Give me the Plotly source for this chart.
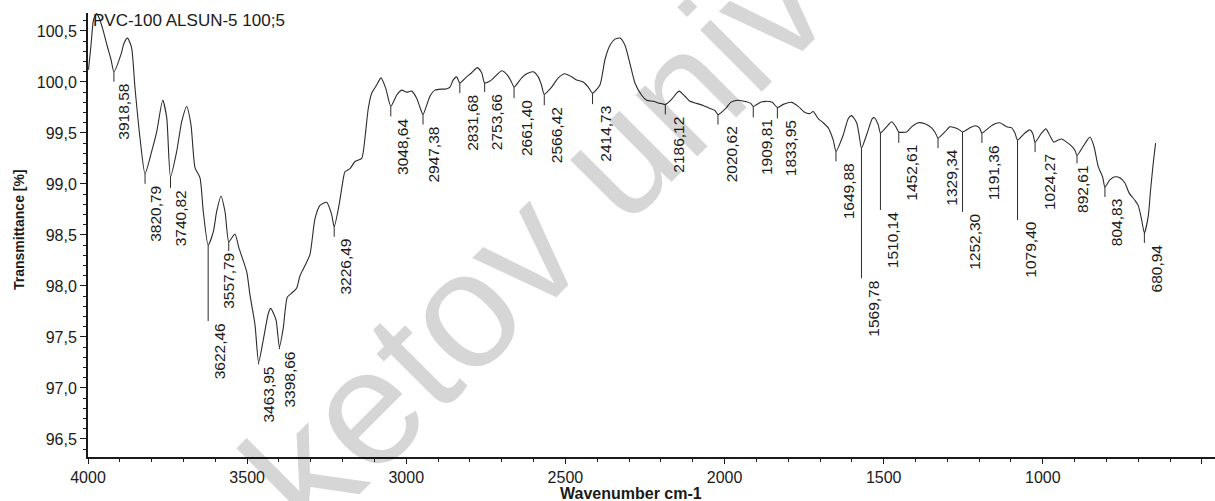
import numpy as np
import plotly.graph_objects as go

# IR spectrum: wavenumber (cm-1) and transmittance (%)
wavenumber = [
    3998.4, 3990.6, 3982.7, 3973.3, 3963.9, 3952.9, 3940.3, 3927.7, 3918.58,
    3896.3, 3886.9, 3875.9, 3863.3, 3852.3, 3836.6, 3820.79,
    3799.9, 3784.2, 3765.3, 3752.7, 3740.82,
    3721.3, 3705.6, 3689.9, 3676.4, 3663.8, 3648.1, 3637.8, 3622.46,
    3606.3, 3595.7, 3582.2, 3569.6, 3557.79,
    3548.5, 3538.2, 3525.6, 3501.4, 3491.0, 3475.3, 3463.95,
    3449.3, 3433.5, 3426.0, 3409.4, 3398.66,
    3386.4, 3373.9, 3360.0, 3344.3, 3333.9, 3318.2, 3302.5, 3286.8, 3271.1,
    3250.1, 3234.4, 3226.49,
    3211.4, 3201.1, 3192.6, 3176.9, 3161.2, 3140.1, 3129.8, 3119.4, 3108.7,
    3093.0, 3079.5, 3064.7, 3048.64,
    3030.2, 3014.4, 2998.7, 2983.0, 2967.3, 2956.9, 2947.38,
    2935.0, 2925.5, 2909.8, 2888.8, 2875.3, 2862.7, 2852.3, 2841.7, 2831.68,
    2810.3, 2794.5, 2776.9, 2763.1, 2753.66,
    2731.7, 2716.0, 2700.3, 2682.7, 2669.5, 2661.40,
    2637.5, 2621.7, 2601.0, 2585.3, 2575.2, 2566.42,
    2543.2, 2522.5, 2501.4, 2480.4, 2464.7, 2444.0, 2428.3, 2414.73,
    2391.5, 2375.7, 2360.0, 2344.3, 2328.6, 2312.9, 2297.2, 2281.5, 2260.4,
    2244.7, 2224.0, 2202.9, 2186.12,
    2166.3, 2150.6, 2142.4, 2124.5, 2108.7, 2087.7, 2067.0, 2045.9, 2030.2,
    2020.62,
    1996.2, 1980.5, 1959.6, 1938.8, 1917.7, 1909.81,
    1887.0, 1871.3, 1850.2, 1833.95,
    1815.6, 1789.4, 1768.5, 1747.5, 1731.8, 1721.4, 1705.6, 1689.9, 1674.2,
    1658.5, 1649.88,
    1627.1, 1611.4, 1600.9, 1585.0, 1576.2, 1569.78,
    1551.6, 1535.9, 1529.0, 1517.1, 1510.14,
    1490.8, 1475.1, 1461.6, 1452.61,
    1427.9, 1412.3, 1391.5, 1370.5, 1349.4, 1337.5, 1329.34,
    1307.6, 1291.9, 1276.2, 1262.0, 1252.30,
    1229.0, 1213.3, 1199.2, 1191.36,
    1166.2, 1150.5, 1134.8, 1113.7, 1098.0, 1087.6, 1079.40,
    1056.2, 1040.5, 1031.1, 1024.27,
    1003.8, 990.4, 975.6, 965.2, 951.6, 940.9, 925.2, 909.5, 899.2, 892.61,
    873.0, 860.4, 852.0, 839.4, 825.9, 812.1, 804.83,
    789.3, 773.5, 757.8, 742.1, 728.6, 710.7, 700.3, 689.6, 680.94,
    668.9, 661.4, 653.2, 645.7,
]

transmittance = [
    100.12, 100.36, 100.61, 100.67, 100.62, 100.51, 100.36, 100.22, 100.10,
    100.27, 100.38, 100.43, 100.34, 99.94, 99.45, 99.10,
    99.32, 99.51, 99.82, 99.65, 99.07,
    99.32, 99.61, 99.76, 99.58, 99.16, 99.06, 98.73, 98.40,
    98.53, 98.73, 98.88, 98.73, 98.43,
    98.47, 98.51, 98.37, 98.14, 97.91, 97.62, 97.25,
    97.47, 97.73, 97.78, 97.67, 97.40,
    97.59, 97.89, 97.93, 97.98, 98.10, 98.20, 98.31, 98.66, 98.79,
    98.82, 98.70, 98.58,
    98.79, 98.99, 99.12, 99.15, 99.22, 99.25, 99.45, 99.74, 99.89,
    99.97, 100.04, 99.94, 99.76,
    99.87, 99.92, 99.90, 99.91, 99.84, 99.75, 99.68,
    99.78, 99.86, 99.92, 99.93, 99.93, 99.95, 100.02, 100.05, 99.99,
    100.05, 100.09, 100.14, 100.09, 99.99,
    100.02, 100.07, 100.11, 100.07, 100.00, 99.95,
    100.04, 100.08, 100.10, 100.05, 99.97, 99.88,
    99.95, 100.04, 100.08, 100.05, 100.02, 100.00, 99.95, 99.89,
    99.97, 100.22, 100.36, 100.42, 100.43, 100.36, 100.18, 99.99, 99.87,
    99.82, 99.81, 99.79, 99.78,
    99.83, 99.89, 99.91, 99.86, 99.81, 99.79, 99.77, 99.74, 99.72,
    99.68,
    99.74, 99.80, 99.82, 99.81, 99.79, 99.76,
    99.80, 99.81, 99.80, 99.75,
    99.78, 99.80, 99.76, 99.70, 99.69, 99.71, 99.64, 99.60, 99.55,
    99.43, 99.32,
    99.48, 99.64, 99.67, 99.60, 99.46, 99.35,
    99.50, 99.64, 99.65, 99.58, 99.50,
    99.56, 99.61, 99.56, 99.51,
    99.51, 99.56, 99.60, 99.59, 99.55, 99.50, 99.45,
    99.51, 99.56, 99.55, 99.53, 99.51,
    99.55, 99.57, 99.55, 99.50,
    99.56, 99.59, 99.60, 99.56, 99.55, 99.50, 99.43,
    99.50, 99.53, 99.49, 99.41,
    99.50, 99.54, 99.46, 99.41, 99.43, 99.44, 99.41, 99.37, 99.33, 99.28,
    99.37, 99.43, 99.46, 99.37, 99.17, 99.07, 98.97,
    99.04, 99.07, 99.06, 99.01, 98.91, 98.84, 98.79, 98.65, 98.52,
    98.68, 98.94, 99.20, 99.40,
]

# Marked absorption bands
peak_wavenumbers = [
    3918.58, 3820.79, 3740.82, 3622.46, 3557.79, 3463.95, 3398.66, 3226.49,
    3048.64, 2947.38, 2831.68, 2753.66, 2661.40, 2566.42, 2414.73, 2186.12,
    2020.62, 1909.81, 1833.95, 1649.88, 1569.78, 1510.14, 1452.61, 1329.34,
    1252.30, 1191.36, 1079.40, 1024.27, 892.61, 804.83, 680.94,
]

x_tick_values = [4000, 3500, 3000, 2500, 2000, 1500, 1000, 500]
y_tick_values = [96.5, 97.0, 97.5, 98.0, 98.5, 99.0, 99.5, 100.0, 100.5]
y_tick_labels = ["96,5", "97,0", "97,5", "98,0", "98,5", "99,0", "99,5", "100,0", "100,5"]

# Leader length (px) and label horizontal offset (px) for each marked band
leader_px = [10, 10, 11, 76, 9, 2, 2, 10, 10, 10, 10, 9, 11, 11, 11, 10,
             10, 11, 11, 10, 130, 77, 11, 10, 80, 10, 80, 10, 8, 10, 10]
label_dx = [10, 11, 10, 11, -1, 9.5, 10, 11.6, 11.7, 11, 13, 12.5, 12, 11.7, 13, 13,
            13.7, 13.4, 13.3, 12, 12, 12.8, 13, 12.6, 12.4, 12, 13, 13.8, 6, 11.7, 12.2]

W, H = 1215, 501
M_L, M_R, M_T, M_B = 88, 0, 13, 44
PLOT_W = W - M_L - M_R
PLOT_H = H - M_T - M_B
X_RANGE = [4000, 459]
Y_RANGE = [96.323, 100.676]
px_per_T = PLOT_H / (Y_RANGE[1] - Y_RANGE[0])

FONT = "Arial, Liberation Sans, sans-serif"
INK = "#1a1a1a"

fig = go.Figure()

fig.add_trace(go.Scatter(
    x=wavenumber, y=transmittance, mode="lines",
    line=dict(color="#2b2b2b", width=1.1, shape="spline", smoothing=0.6),
    hoverinfo="skip", showlegend=False,
))

# Leader lines hanging below each marked band
peak_T = np.interp(peak_wavenumbers[::-1], wavenumber[::-1], transmittance[::-1])[::-1]
lx, ly = [], []
for wn, t, lp in zip(peak_wavenumbers, peak_T, leader_px):
    lx += [wn, wn, None]
    ly += [t, t - lp / px_per_T, None]
fig.add_trace(go.Scatter(
    x=lx, y=ly, mode="lines", line=dict(color="#2b2b2b", width=1),
    hoverinfo="skip", showlegend=False,
))

annotations = []
for wn, t, lp, dx in zip(peak_wavenumbers, peak_T, leader_px, label_dx):
    annotations.append(dict(
        x=wn, y=t - lp / px_per_T, xref="x", yref="y",
        text=f"{wn:.2f}".replace(".", ","), showarrow=False, textangle=-90,
        xanchor="center", yanchor="top", xshift=dx, yshift=0,
        font=dict(family=FONT, size=15.5, color=INK),
    ))


def paper(px, py):
    return (px - M_L) / PLOT_W, (H - M_B - py) / PLOT_H


# Background watermark
wx, wy = paper(535, 238)
annotations.append(dict(
    x=wx, y=wy, xref="paper", yref="paper", text="ketov univ", showarrow=False,
    textangle=-45, xanchor="center", yanchor="middle",
    font=dict(family=FONT, size=165, color="rgba(0,0,0,0.16)"),
))

tx, ty = paper(91, 20.5)
annotations.append(dict(
    x=tx, y=ty, xref="paper", yref="paper", text="PVC-100 ALSUN-5 100;5",
    showarrow=False, xanchor="left", yanchor="middle",
    font=dict(family=FONT, size=17, color=INK),
))

ax_x, ax_y = paper(631, 493.5)
annotations.append(dict(
    x=ax_x, y=ax_y, xref="paper", yref="paper", text="<b>Wavenumber cm-1</b>",
    showarrow=False, xanchor="center", yanchor="middle",
    font=dict(family=FONT, size=16, color=INK),
))

ay_x, ay_y = paper(19, 230)
annotations.append(dict(
    x=ay_x, y=ay_y, xref="paper", yref="paper", text="<b>Transmittance [%]</b>",
    showarrow=False, textangle=-90, xanchor="center", yanchor="middle",
    font=dict(family=FONT, size=14, color=INK),
))

fig.update_layout(
    width=W, height=H,
    margin=dict(l=M_L, r=M_R, t=M_T, b=M_B, pad=0),
    paper_bgcolor="white", plot_bgcolor="white",
    showlegend=False,
    annotations=annotations,
    xaxis=dict(
        range=X_RANGE, tickvals=x_tick_values, ticks="outside", ticklen=5,
        tickwidth=1, tickcolor=INK, showline=True, linewidth=2, linecolor=INK,
        showgrid=False, zeroline=False,
        tickfont=dict(family=FONT, size=16, color=INK),
        minor=dict(dtick=100, tick0=0, ticks="outside", ticklen=3, tickcolor=INK, showgrid=False),
    ),
    yaxis=dict(
        range=Y_RANGE, tickvals=y_tick_values, ticktext=y_tick_labels,
        ticks="outside", ticklen=6, tickwidth=1, tickcolor=INK,
        showline=True, linewidth=2, linecolor=INK,
        showgrid=False, zeroline=False,
        tickfont=dict(family=FONT, size=16, color=INK),
        minor=dict(dtick=0.1, tick0=0, ticks="outside", ticklen=3, tickcolor=INK, showgrid=False),
    ),
)

fig.write_html("out.html")
